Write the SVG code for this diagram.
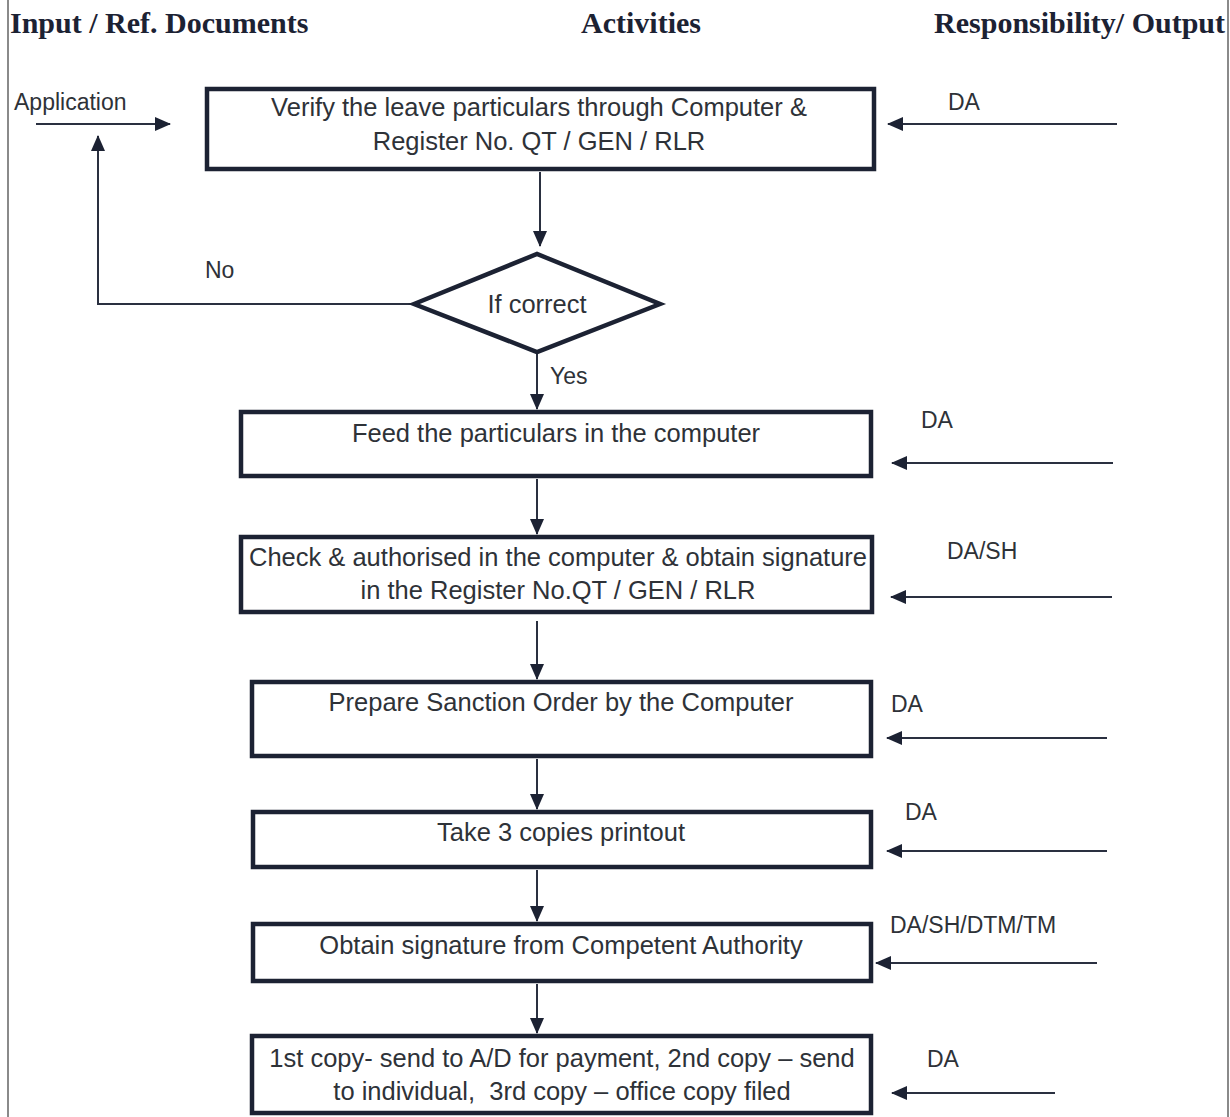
<svg xmlns="http://www.w3.org/2000/svg" width="1230" height="1117" viewBox="0 0 1230 1117">
  <style>
    .hdr { font-family: "Liberation Serif", "Times New Roman", serif; font-weight: bold; font-size: 30px; fill: #1c2233; }
    .txt { font-family: "Liberation Sans", Arial, sans-serif; font-size: 25.5px; fill: #2e3238; }
    .lbl { font-family: "Liberation Sans", Arial, sans-serif; font-size: 23px; fill: #2e3238; }
    .box { fill: #ffffff; stroke: #1c2233; stroke-width: 4.5; }
    .conn { fill: none; stroke: #2a3040; stroke-width: 2; }
    .frame { stroke: #8a8a8a; stroke-width: 2; }
  </style>
  <defs>
    <marker id="arrow" markerWidth="16" markerHeight="14" refX="15" refY="7" orient="auto" markerUnits="userSpaceOnUse">
      <path d="M0,0 L16,7 L0,14 Z" fill="#1c2233"/>
    </marker>
  </defs>

  <rect x="0" y="0" width="1230" height="1117" fill="#ffffff"/>

  <!-- page frame -->
  <line class="frame" x1="8" y1="0" x2="8" y2="1117"/>
  <line class="frame" x1="1228" y1="0" x2="1228" y2="1117"/>

  <!-- column headings -->
  <g id="headings">
    <text class="hdr" x="10" y="33">Input / Ref. Documents</text>
    <text class="hdr" x="641" y="33" text-anchor="middle">Activities</text>
    <text class="hdr" x="1225" y="33" text-anchor="end">Responsibility/ Output</text>
  </g>

  <!-- connectors -->
  <g id="connectors">
    <line class="conn" x1="36" y1="124" x2="170" y2="124" marker-end="url(#arrow)"/>
    <line class="conn" x1="540" y1="172" x2="540" y2="246" marker-end="url(#arrow)"/>
    <polyline class="conn" points="414,304 98,304 98,136" marker-end="url(#arrow)"/>
    <line class="conn" x1="537" y1="354" x2="537" y2="409" marker-end="url(#arrow)"/>
    <line class="conn" x1="537" y1="479" x2="537" y2="534" marker-end="url(#arrow)"/>
    <line class="conn" x1="537" y1="621" x2="537" y2="679" marker-end="url(#arrow)"/>
    <line class="conn" x1="537" y1="759" x2="537" y2="809" marker-end="url(#arrow)"/>
    <line class="conn" x1="537" y1="870" x2="537" y2="921" marker-end="url(#arrow)"/>
    <line class="conn" x1="537" y1="984" x2="537" y2="1033" marker-end="url(#arrow)"/>

    <line class="conn" x1="1117" y1="124" x2="888" y2="124" marker-end="url(#arrow)"/>
    <line class="conn" x1="1113" y1="463" x2="892" y2="463" marker-end="url(#arrow)"/>
    <line class="conn" x1="1112" y1="597" x2="891" y2="597" marker-end="url(#arrow)"/>
    <line class="conn" x1="1107" y1="738" x2="887" y2="738" marker-end="url(#arrow)"/>
    <line class="conn" x1="1107" y1="851" x2="887" y2="851" marker-end="url(#arrow)"/>
    <line class="conn" x1="1097" y1="963" x2="876" y2="963" marker-end="url(#arrow)"/>
    <line class="conn" x1="1055" y1="1093" x2="892" y2="1093" marker-end="url(#arrow)"/>
  </g>

  <!-- side labels -->
  <g id="labels">
    <text class="lbl" x="14" y="110">Application</text>
    <text class="lbl" x="205" y="278">No</text>
    <text class="lbl" x="550" y="384">Yes</text>
    <text class="lbl" x="948" y="110">DA</text>
    <text class="lbl" x="921" y="428">DA</text>
    <text class="lbl" x="947" y="559">DA/SH</text>
    <text class="lbl" x="891" y="712">DA</text>
    <text class="lbl" x="905" y="820">DA</text>
    <text class="lbl" x="890" y="933">DA/SH/DTM/TM</text>
    <text class="lbl" x="927" y="1067">DA</text>
  </g>

  <!-- process steps -->
  <g id="verify">
    <rect class="box" x="207" y="89" width="667" height="80"/>
    <text class="txt" x="539" y="116" text-anchor="middle">Verify the leave particulars through Computer &amp;</text>
    <text class="txt" x="539" y="150" text-anchor="middle">Register No. QT / GEN / RLR</text>
  </g>

  <g id="decision">
    <polygon class="box" points="414,304 537,254 660,304 537,352"/>
    <text class="txt" x="537" y="313" text-anchor="middle">If correct</text>
  </g>

  <g id="feed">
    <rect class="box" x="241" y="412" width="630" height="64"/>
    <text class="txt" x="556" y="442" text-anchor="middle">Feed the particulars in the computer</text>
  </g>

  <g id="check">
    <rect class="box" x="241" y="537" width="631" height="75"/>
    <text class="txt" x="558" y="566" text-anchor="middle">Check &amp; authorised in the computer &amp; obtain signature</text>
    <text class="txt" x="558" y="599" text-anchor="middle">in the Register No.QT / GEN / RLR</text>
  </g>

  <g id="prepare">
    <rect class="box" x="252" y="682" width="619" height="74"/>
    <text class="txt" x="561" y="711" text-anchor="middle">Prepare Sanction Order by the Computer</text>
  </g>

  <g id="printout">
    <rect class="box" x="253" y="812" width="618" height="55"/>
    <text class="txt" x="561" y="841" text-anchor="middle">Take 3 copies printout</text>
  </g>

  <g id="signature">
    <rect class="box" x="253" y="924" width="618" height="57"/>
    <text class="txt" x="561" y="954" text-anchor="middle">Obtain signature from Competent Authority</text>
  </g>

  <g id="distribute">
    <rect class="box" x="252" y="1036" width="619" height="77"/>
    <text class="txt" x="562" y="1067" text-anchor="middle">1st copy- send to A/D for payment, 2nd copy – send</text>
    <text class="txt" x="562" y="1100" text-anchor="middle" style="white-space: pre">to individual,  3rd copy – office copy filed</text>
  </g>
</svg>
